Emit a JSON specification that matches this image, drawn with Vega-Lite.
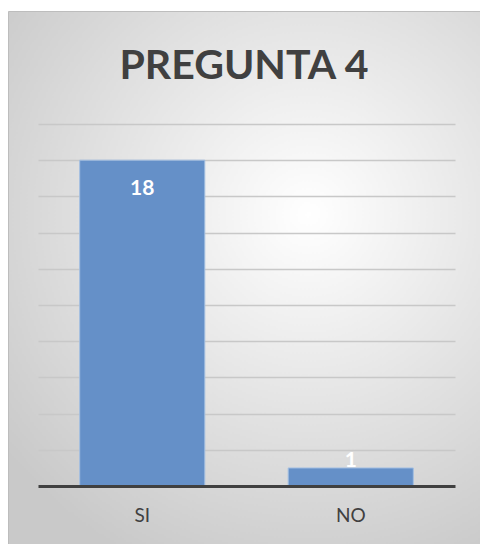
{
  "$schema": "https://vega.github.io/schema/vega-lite/v6.json",
  "width": 472,
  "height": 533,
  "autosize": {"type": "none"},
  "padding": {"left": 8, "top": 11, "right": 0, "bottom": 0},
  "background": "#ffffff",
  "view": {
    "fill": {
      "gradient": "radial",
      "x1": 0.62, "y1": 0.38, "r1": 0,
      "x2": 0.62, "y2": 0.38, "r2": 0.72,
      "stops": [
        {"offset": 0, "color": "#ffffff"},
        {"offset": 1, "color": "#c9c9c9"}
      ]
    },
    "stroke": "#bdbdbd",
    "strokeWidth": 1
  },
  "title": {
    "text": "PREGUNTA 4",
    "anchor": "middle",
    "frame": "group",
    "orient": "top",
    "offset": -67,
    "dy": 42,
    "baseline": "alphabetic",
    "font": "Lato",
    "fontSize": 41,
    "fontWeight": "bold",
    "color": "#404040"
  },
  "data": {
    "values": [
      {"respuesta": "SI", "cantidad": 18},
      {"respuesta": "NO", "cantidad": 1}
    ]
  },
  "encoding": {
    "x": {
      "field": "respuesta",
      "type": "nominal",
      "sort": ["SI", "NO"],
      "scale": {"range": [30, 447], "paddingInner": 0.4, "paddingOuter": 0.2},
      "axis": {
        "title": null,
        "orient": "bottom",
        "offset": -58,
        "labelAngle": 0,
        "labelFont": "Lato",
        "labelFontSize": 19,
        "labelColor": "#404040",
        "labelPadding": 20,
        "ticks": false,
        "tickSize": 0,
        "domain": true,
        "domainColor": "#404040",
        "domainWidth": 3,
        "grid": false,
        "zindex": 1
      }
    },
    "y": {
      "field": "cantidad",
      "type": "quantitative",
      "scale": {"domain": [-3.2, 26.24], "nice": false, "zero": false},
      "axis": {
        "title": null,
        "values": [2, 4, 6, 8, 10, 12, 14, 16, 18, 20],
        "labels": false,
        "ticks": false,
        "domain": false,
        "grid": true,
        "gridColor": "#c8c8c8",
        "gridWidth": 1.5,
        "zindex": 0
      }
    }
  },
  "layer": [
    {
      "mark": {"type": "bar", "color": "#6590c8", "stroke": "#a3bfe2", "strokeWidth": 1}
    },
    {
      "transform": [{"filter": "datum.cantidad >= 5"}],
      "mark": {"type": "text", "color": "#ffffff", "font": "Lato", "fontWeight": "bold", "fontSize": 21, "baseline": "alphabetic", "dy": 35},
      "encoding": {"text": {"field": "cantidad", "type": "quantitative"}}
    },
    {
      "transform": [{"filter": "datum.cantidad < 5"}],
      "mark": {"type": "text", "color": "#ffffff", "font": "Lato", "fontWeight": "bold", "fontSize": 21, "baseline": "alphabetic", "dy": -1},
      "encoding": {"text": {"field": "cantidad", "type": "quantitative"}}
    }
  ]
}
